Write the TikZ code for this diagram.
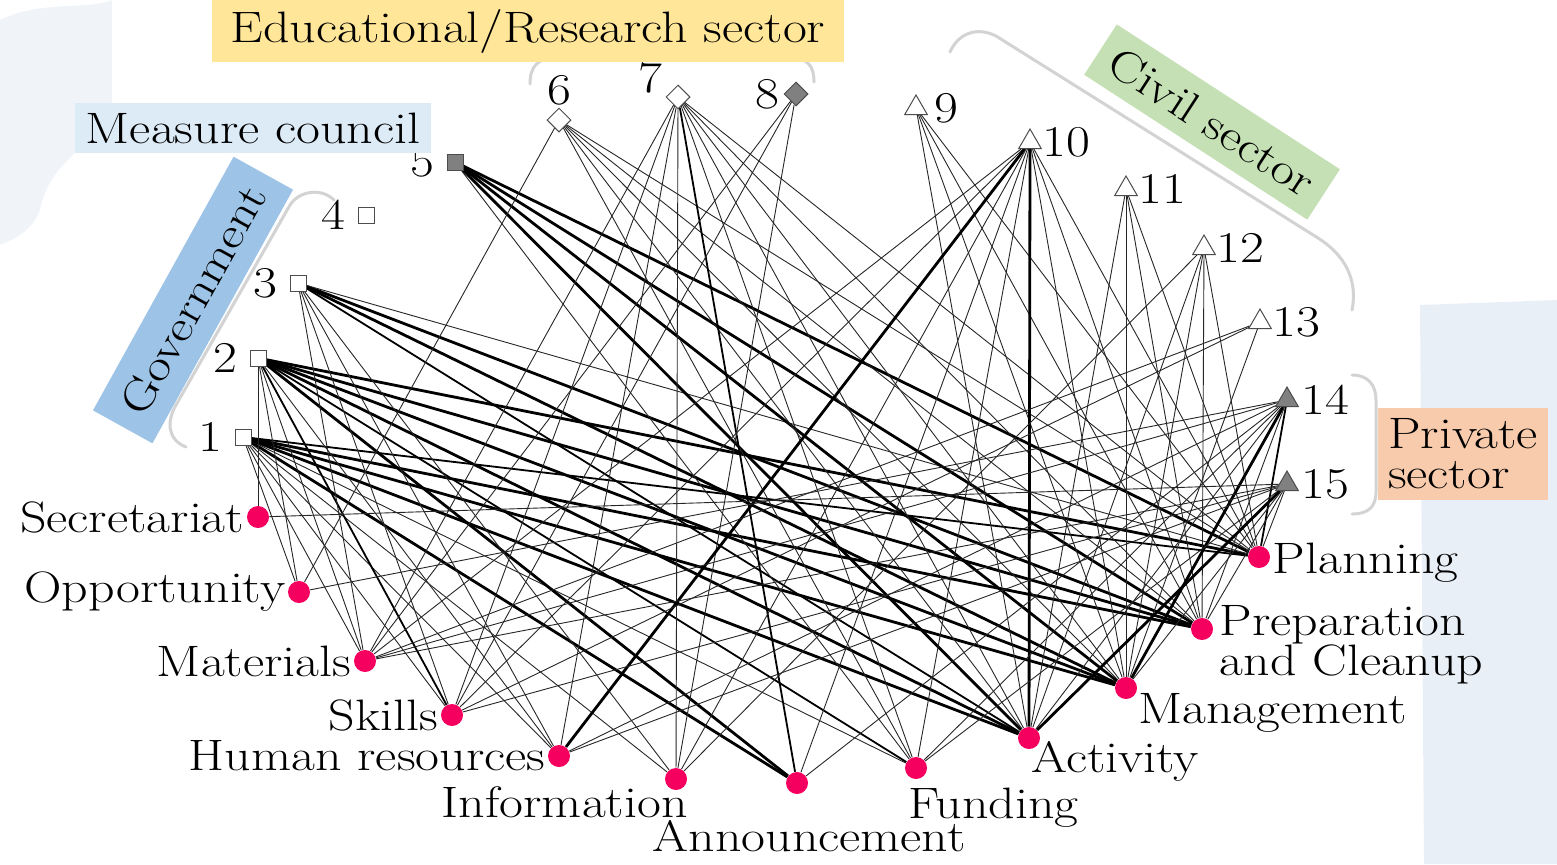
\documentclass[tikz,border=0pt]{standalone}
\usepackage{fontspec}
\setmainfont{Latin Modern Roman}[FakeStretch=1.18]
\usetikzlibrary{shapes.geometric, backgrounds, positioning}
\definecolor{cedu}{HTML}{FFE699}
\definecolor{cmea}{HTML}{DDEBF7}
\definecolor{cgov}{HTML}{9DC3E6}
\definecolor{cciv}{HTML}{C5E0B4}
\definecolor{cpri}{HTML}{F8CBAD}
\definecolor{cbg}{HTML}{E9EFF7}
\definecolor{respink}{HTML}{F5005F}
\definecolor{brgray}{HTML}{D3D3D3}
\newcommand{\labfont}{\fontsize{22}{20}\selectfont}
\tikzset{
  asq/.style = {rectangle, draw=black!70, fill=white, minimum size=8pt,
    inner sep=0pt, line width=0.5pt},
  adi/.style = {diamond, draw=black!70, fill=white, minimum size=12pt,
    inner sep=0pt, line width=0.5pt},
  atr/.style = {regular polygon, regular polygon sides=3, draw=black!70,
    fill=white, minimum size=13pt, inner sep=0pt, line width=0.5pt},
  adk/.style = {fill=black!50},
  res/.style = {circle, fill=respink, minimum size=11pt, inner sep=0pt},
  lbl/.style = {font=\labfont, inner sep=1pt},
  grp/.style = {font=\labfont, inner sep=2pt, align=center},
  brk/.style = {draw=brgray, line width=1.5pt, line cap=round},
  wl/.style = {draw=black!85, line width=0.45pt},
  wm/.style = {draw=black, line width=0.9pt},
  wh/.style = {draw=black, line width=1.4pt}
}

\begin{document}
\begin{tikzpicture}[x=0.5pt, y=-0.5pt]
  \useasboundingbox (0,0) rectangle (1557,864);
  % actors
  \node [asq, label={[lbl, label distance=5pt]left:1}] (a1) at (243,437) {};
  \node [asq, label={[lbl, label distance=5pt]left:2}] (a2) at (258,358) {};
  \node [asq, label={[lbl, label distance=5pt]left:3}] (a3) at (298,283) {};
  \node [asq, label={[lbl, label distance=5pt]left:4}] (a4) at (366,215) {};
  \node [asq, adk, label={[lbl, label distance=5pt]left:5}] (a5) at (455,162) {};
  \node [adi, label={[lbl]above:6}] (a6) at (559,120) {};
  \node [adi, label={[lbl, label distance=1pt]175:7}] (a7) at (678,97) {};
  \node [adi, adk, label={[lbl, label distance=1pt]left:8}] (a8) at (796,94) {};
  \node [atr, label={[lbl, label distance=4pt]right:9}] (a9) at (916,108) {};
  \node [atr, label={[lbl, label distance=1pt]right:10}] (a10) at (1030,142) {};
  \node [atr, label={[lbl, label distance=1pt]right:11}] (a11) at (1126,189) {};
  \node [atr, label={[lbl, label distance=1pt]right:12}] (a12) at (1204,248) {};
  \node [atr, label={[lbl, label distance=1pt]right:13}] (a13) at (1260,322) {};
  \node [atr, adk, label={[lbl, label distance=2pt]right:14}] (a14) at (1287,400) {};
  \node [atr, adk, label={[lbl, label distance=2pt]right:15}] (a15) at (1287,484) {};
  % resources
  \node [res, label={[lbl]left:Secretariat}] (sec) at (258,517) {};
  \node [res, label={[lbl]left:Opportunity}] (opp) at (299,592) {};
  \node [res, label={[lbl]left:Materials}] (mat) at (365,661) {};
  \node [res, label={[lbl]left:Skills}] (ski) at (452,715) {};
  \node [res, label={[lbl]left:Human resources}] (hr) at (559,756) {};
  \node [res, label={[lbl, anchor=north east, xshift=7pt, yshift=3pt]south:Information}] (inf) at (676,779) {};
  \node [res, label={[lbl, xshift=6pt, yshift=-12pt]south:Announcement}] (ann) at (797,783) {};
  \node [res, label={[lbl, anchor=north west, xshift=-5pt, yshift=-3pt]south:Funding}] (fun) at (916,768) {};
  \node [res, label={[lbl, anchor=north west, yshift=5pt]south:Activity}] (act) at (1029,738) {};
  \node [res, label={[lbl, anchor=north west, xshift=5pt, yshift=4pt]south:Management}] (man) at (1126,688) {};
  \node [res, label={[lbl, align=left, anchor=west, xshift=2pt, yshift=-8pt]east:Preparation\\and Cleanup}] (prep) at (1202,629) {};
  \node [res, label={[lbl, anchor=west, yshift=-3pt]east:Planning}] (plan) at (1259,557) {};
  % sector brackets
  \draw [brk] (530,84) .. controls (530,66) and (538,58) .. (556,58) -- (790,58)
    .. controls (808,58) and (814,66) .. (814,82);
  \draw [brk] (186,447) .. controls (168,440) and (166,422) .. (176,405) -- (290,205)
    .. controls (300,190) and (322,188) .. (334,200);
  \draw [brk] (950,52) .. controls (958,34) and (976,26) .. (996,36) -- (1318,238)
    .. controls (1345,255) and (1358,280) .. (1352,310);
  \draw [brk] (1352,375) .. controls (1368,375) and (1376,385) .. (1376,400) -- (1376,492)
    .. controls (1376,507) and (1368,514) .. (1352,514);
  % sector labels
  \node [grp, fill=cedu, minimum width=316pt, minimum height=31pt] (gedu) at (528,31) {Educational/Research sector};
  \node [grp, fill=cmea, minimum width=178pt, minimum height=25pt] (gmea) at (253,128) {Measure council};
  \node [grp, fill=cgov, rotate=61, minimum width=145pt, minimum height=34pt] (ggov) at (193,300) {Government};
  \node [grp, fill=cciv, rotate=-33, minimum width=133pt, minimum height=30pt] (gciv) at (1212,122) {Civil sector};
  \node [grp, fill=cpri, align=left, minimum width=85pt, minimum height=46pt] (gpri) at (1463,454) {Private\\sector};
  \begin{scope}[on background layer]
    \fill [cbg!70] (0,20) .. controls (40,0) and (90,10) .. (112,0) -- (112,110)
      .. controls (90,150) and (50,160) .. (40,210) .. controls (30,235) and (10,240) .. (0,245) -- cycle;
    \fill [cbg] (1420,305) -- (1557,300) -- (1557,864) -- (1424,864) -- cycle;
    % links actor -- resource
    \foreach \r/\w in {opp/wl, mat/wl, ski/wl, hr/wl, inf/wl, ann/wh, fun/wl,
        act/wh, man/wh, prep/wh, plan/wm}
      \draw [\w] (a1) -- (\r);
    \foreach \r/\w in {sec/wl, opp/wl, mat/wl, ski/wm, hr/wl, ann/wh, fun/wm,
        act/wh, man/wh, prep/wh, plan/wh}
      \draw [\w] (a2) -- (\r);
    \foreach \r/\w in {mat/wl, ski/wl, hr/wl, inf/wl, act/wm, man/wh, prep/wh, plan/wl}
      \draw [\w] (a3) -- (\r);
    \foreach \r/\w in {fun/wl, act/wh, man/wh, prep/wh, plan/wh}
      \draw [\w] (a5) -- (\r);
    \foreach \r/\w in {opp/wl, fun/wl, act/wl, man/wl, prep/wl, plan/wl}
      \draw [\w] (a6) -- (\r);
    \foreach \r/\w in {mat/wl, ski/wl, hr/wl, inf/wl, ann/wm, fun/wl, act/wl,
        man/wl, prep/wl, plan/wl}
      \draw [\w] (a7) -- (\r);
    \foreach \r/\w in {mat/wl, ski/wl, inf/wl}
      \draw [\w] (a8) -- (\r);
    \foreach \r/\w in {act/wl, man/wl, prep/wl, plan/wl}
      \draw [\w] (a9) -- (\r);
    \foreach \r/\w in {mat/wl, ski/wl, hr/wh, inf/wl, ann/wl, fun/wl, act/wh,
        man/wl, prep/wl, plan/wl}
      \draw [\w] (a10) -- (\r);
    \foreach \r/\w in {act/wl, man/wl, prep/wl, plan/wl}
      \draw [\w] (a11) -- (\r);
    \foreach \r/\w in {inf/wl, act/wl, man/wl, prep/wl, plan/wl}
      \draw [\w] (a12) -- (\r);
    \foreach \r/\w in {mat/wl, ski/wl, man/wl}
      \draw [\w] (a13) -- (\r);
    \foreach \r/\w in {opp/wl, mat/wl, hr/wl, ann/wl, fun/wl, act/wl, man/wh,
        prep/wl, plan/wm}
      \draw [\w] (a14) -- (\r);
    \foreach \r/\w in {sec/wl, mat/wl, ski/wl, hr/wl, fun/wl, act/wh, man/wl,
        prep/wl, plan/wl}
      \draw [\w] (a15) -- (\r);
  \end{scope}
\end{tikzpicture}
\end{document}
